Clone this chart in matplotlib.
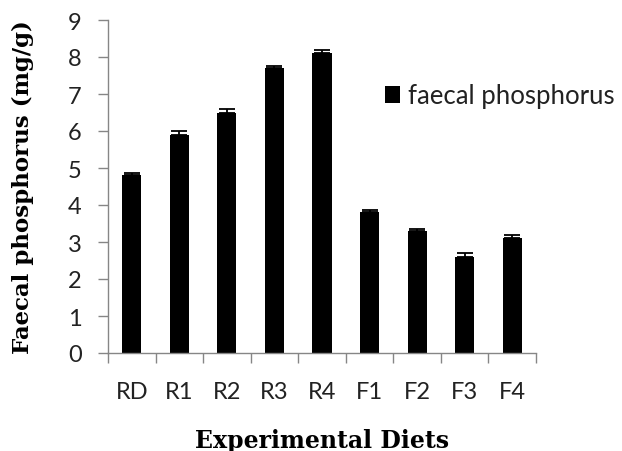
import matplotlib.pyplot as plt
import numpy as np

# Data
diets = ['RD', 'R1', 'R2', 'R3', 'R4', 'F1', 'F2', 'F3', 'F4']
faecal_p = [4.8, 5.9, 6.5, 7.7, 8.1, 3.8, 3.3, 2.6, 3.1]
errors = [0.07, 0.1, 0.1, 0.05, 0.1, 0.06, 0.06, 0.1, 0.1]

AXIS_GRAY = '#868686'


def plot_chart():
    fig = plt.figure(figsize=(6.22, 4.52), dpi=100)
    ax = fig.add_axes([108 / 622, 98 / 452, 428 / 622, 333 / 452])

    x = np.arange(len(diets))
    ax.bar(x, faecal_p, width=0.4, color='black', label='faecal phosphorus',
           zorder=2)
    ax.errorbar(x, faecal_p, yerr=[np.zeros(len(errors)), errors], fmt='none',
                ecolor='black', elinewidth=1.3, capsize=6, capthick=1.3,
                zorder=3)

    ax.set_xlim(-0.5, len(diets) - 0.5)
    ax.set_ylim(0, 9)
    ax.set_yticks(range(0, 10))

    # category labels at centres, tick marks between categories
    ax.set_xticks(x)
    ax.set_xticklabels(diets)
    ax.set_xticks(np.arange(-0.5, len(diets)), minor=True)
    ax.tick_params(axis='x', which='major', length=0, pad=20)
    ax.tick_params(axis='x', which='minor', length=7, width=1,
                   color=AXIS_GRAY, direction='out')
    ax.tick_params(axis='y', length=7, width=1, color=AXIS_GRAY,
                   direction='out', pad=12)

    for lab in ax.get_xticklabels() + ax.get_yticklabels():
        lab.set_fontfamily('Lato')
        lab.set_fontsize(17)
        lab.set_color('#222222')

    for side in ['top', 'right']:
        ax.spines[side].set_visible(False)
    for side in ['left', 'bottom']:
        ax.spines[side].set_color(AXIS_GRAY)
        ax.spines[side].set_linewidth(1)

    ax.set_ylabel('Faecal phosphorus (mg/g)', fontfamily='DejaVu Serif',
                  fontweight='bold', fontsize=16.5)
    ax.set_xlabel('Experimental Diets', fontfamily='DejaVu Serif',
                  fontweight='bold', fontsize=17)
    ax.yaxis.set_label_coords(-85 / 428, 0.5)
    ax.xaxis.set_label_coords(0.5, -87 / 333)
    ax.xaxis.label.set_verticalalignment('center')
    ax.yaxis.label.set_verticalalignment('center')

    leg = ax.legend(loc='center left',
                    bbox_to_anchor=(385 / 622, 1 - 97 / 452),
                    bbox_transform=fig.transFigure, frameon=False,
                    prop={'family': 'Lato', 'size': 18.5}, borderpad=0,
                    borderaxespad=0,
                    handlelength=0.6, handleheight=0.6, handletextpad=0.3)
    for t in leg.get_texts():
        t.set_color('#222222')

    fig.savefig('out.png', dpi=100)
    plt.close(fig)


if __name__ == '__main__':
    plot_chart()
